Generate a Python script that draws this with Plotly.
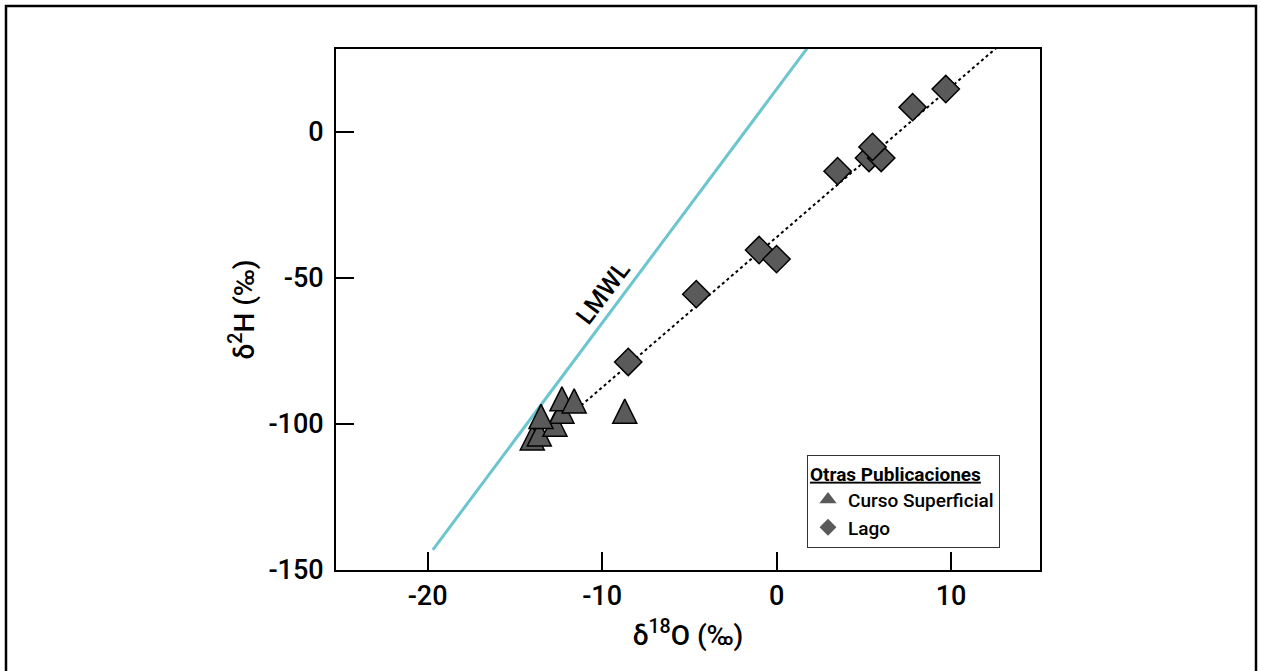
import plotly.graph_objects as go

# Otras Publicaciones: Curso Superficial (δ18O, δ2H in ‰)
curso_d18o = [-14.0, -13.6, -12.7, -12.3, -13.5, -12.3, -11.6, -8.7]
curso_d2h = [-106.2, -104.8, -101.5, -97.0, -98.8, -92.8, -93.5, -97.0]

# Otras Publicaciones: Lago
lago_d18o = [-8.5, -4.6, -1.0, 0.0, 3.5, 5.3, 6.0, 5.5, 7.8, 9.7]
lago_d2h = [-78.8, -55.6, -40.5, -43.6, -13.5, -9.0, -9.0, -5.2, 8.4, 14.6]

# Local meteoric water line (endpoints)
lmwl_d18o = [-19.7, 2.5]
lmwl_d2h = [-143.1, 34.5]

# Evaporation trend through the lake samples (endpoints)
trend_d18o = [-11.2, 13.5]
trend_d2h = [-93.7, 33.3]

x_tickvals = [-20, -10, 0, 10]
x_ticktext = ["-20", "-10", "0", "10"]
y_tickvals = [-150, -100, -50, 0]
y_ticktext = ["-150", "-100", "-50", "0"]

FONT = "Roboto"
MARKER_FILL = "#5a5a5a"

fig = go.Figure()

fig.add_trace(go.Scatter(
    x=lmwl_d18o, y=lmwl_d2h, mode="lines",
    line=dict(color="#6cc5cf", width=3), showlegend=False, hoverinfo="skip"))

fig.add_trace(go.Scatter(
    x=trend_d18o, y=trend_d2h, mode="lines",
    line=dict(color="black", width=2, dash="dot"), showlegend=False, hoverinfo="skip"))

# Triangles drawn as upward arrows so they are as tall as they are wide
fig.add_trace(go.Scatter(
    x=curso_d18o, y=curso_d2h, mode="markers", name="Curso Superficial",
    marker=dict(symbol="arrow-down", angle=180, standoff=16, size=24,
                color=MARKER_FILL, line=dict(color="black", width=1.5)),
    showlegend=False))

fig.add_trace(go.Scatter(
    x=lago_d18o, y=lago_d2h, mode="markers", name="Lago",
    marker=dict(symbol="diamond", size=21, color=MARKER_FILL,
                line=dict(color="black", width=1.5)),
    showlegend=False))

# Legend entries
fig.add_trace(go.Scatter(
    x=[None], y=[None], mode="markers", name="Curso Superficial",
    legendgroup="curso",
    marker=dict(symbol="triangle-up", size=15, color=MARKER_FILL,
                line=dict(color=MARKER_FILL, width=0))))
fig.add_trace(go.Scatter(
    x=[None], y=[None], mode="markers", name="Lago",
    legendgroup="lago",
    marker=dict(symbol="diamond", size=13, color=MARKER_FILL,
                line=dict(color=MARKER_FILL, width=0))))

fig.add_annotation(
    x=-9.95, y=-54.9, xref="x", yref="y", text="LMWL", showarrow=False,
    textangle=-53, font=dict(family=FONT, size=25, color="black", weight=500))

# Outer frame around the figure
L, R, T, B = 336, 221, 49, 101
W, H = 1261, 671
pw, ph = W - L - R, H - T - B
fig.add_shape(
    type="rect", xref="paper", yref="paper",
    x0=(6 - L) / pw, x1=(1256 - L) / pw,
    y0=(H - B - 700) / ph, y1=(H - B - 6) / ph,
    line=dict(color="black", width=2.5), fillcolor="rgba(0,0,0,0)", layer="above")

axis_common = dict(
    showline=True, linecolor="black", linewidth=2, mirror=True,
    ticks="inside", ticklen=18, tickwidth=2, tickcolor="black",
    showgrid=False, zeroline=False,
    tickfont=dict(family=FONT, size=27, color="black", weight=500),
)

fig.update_layout(
    width=W, height=H,
    margin=dict(l=L, r=R, t=T, b=B),
    paper_bgcolor="white", plot_bgcolor="white",
    font=dict(family=FONT, color="black"),
    xaxis=dict(range=[-25.25, 15.1], tickvals=x_tickvals, ticktext=x_ticktext,
               ticklabelstandoff=1,
               title=dict(text="δ<sup>18</sup>O (‰)",
                          font=dict(family=FONT, size=28, weight=500),
                          standoff=14),
               **axis_common),
    yaxis=dict(range=[-150, 28.3], tickvals=y_tickvals, ticktext=y_ticktext,
               ticklabelstandoff=5,
               title=dict(text="δ<sup>2</sup>H (‰)",
                          font=dict(family=FONT, size=28, weight=500),
                          standoff=6),
               **axis_common),
    legend=dict(
        x=(807 - L) / pw, y=(H - B - 455) / ph, xanchor="left", yanchor="top",
        bgcolor="white", bordercolor="#333333", borderwidth=1,
        font=dict(family=FONT, size=19, color="black", weight=500),
        title=dict(text="<b><u>Otras Publicaciones</u></b>",
                   font=dict(family=FONT, size=19, color="black")),
        itemsizing="trace", tracegroupgap=0,
        entrywidth=170, entrywidthmode="pixels",
    ),
)

fig.write_html("out.html")
